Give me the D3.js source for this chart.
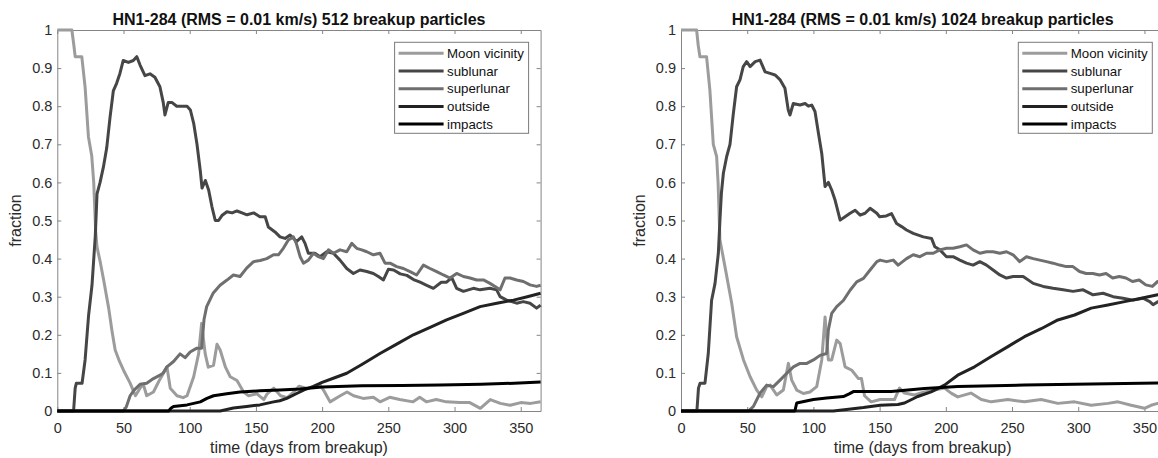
<!DOCTYPE html>
<html>
<head>
<meta charset="utf-8">
<script src="https://cdn.jsdelivr.net/npm/d3@7"></script>
<style>
  body { margin: 0; background: #fff; }
  svg { display: block; font-family: 'Liberation Sans', Arial, sans-serif; }
</style>
</head>
<body>
<div id="chart"></div>
<script>

// ---- data: [day, fraction] ----

var seriesNames = ['Moon vicinity', 'sublunar', 'superlunar', 'outside', 'impacts'];
var xTicks = [0, 50, 100, 150, 200, 250, 300, 350];
var yTicks = [0, 0.1, 0.2, 0.3, 0.4, 0.5, 0.6, 0.7, 0.8, 0.9, 1];

var moon512 = [[0,1],[11,1],[12.5,0.96],[13.5,0.93],[18.5,0.93],[21,0.85],[23.5,0.72],[26,0.67],[27.5,0.6],[29,0.47],[30,0.43],
  [32.5,0.39],[35,0.344],[38.8,0.27],[41.3,0.21],[43.7,0.16],[47,0.13],[50,0.107],[55,0.073],[59,0.04],[62.5,0.06],[65,0.07],
  [67.5,0.04],[72.6,0.05],[77,0.08],[80.3,0.1],[82.8,0.116],[85.3,0.06],[90.4,0.04],[95,0.035],[98,0.04],[103,0.09],[106.7,0.15],
  [109,0.23],[111.7,0.15],[114,0.115],[118,0.12],[120.6,0.175],[123,0.16],[127,0.115],[130.6,0.09],[135.7,0.08],[140.7,0.05],
  [144.5,0.04],[150.8,0.045],[156,0.03],[158.5,0.045],[163.5,0.06],[168.6,0.04],[173.6,0.035],[178.7,0.05],[182.5,0.065],
  [188,0.06],[193.6,0.064],[198,0.07],[201,0.055],[206,0.024],[213.7,0.04],[218.8,0.05],[223.8,0.04],[231,0.033],[238.7,0.036],
  [243.7,0.024],[251,0.036],[258.6,0.03],[268.7,0.024],[273.7,0.036],[278.7,0.024],[286.2,0.03],[293.8,0.024],[304,0.022],
  [311.5,0.022],[319.5,0.007],[327,0.03],[334.6,0.02],[342,0.015],[350,0.022],[357.5,0.02],[365,0.024]];

var sub512 = [[0,0],[12.3,0],[13.5,0.06],[14.4,0.073],[18.7,0.073],[21,0.134],[23.6,0.25],[26.2,0.33],[28.7,0.46],[30,0.57],
  [32.3,0.6],[34.8,0.64],[37.3,0.69],[39.8,0.77],[42.3,0.84],[44.8,0.86],[47.3,0.886],[49.8,0.92],[53.7,0.915],[57.4,0.92],
  [60,0.93],[62.5,0.908],[66.2,0.88],[70,0.885],[73.7,0.876],[77.5,0.851],[80,0.81],[81.3,0.777],[83.8,0.81],[86.5,0.81],
  [90.2,0.8],[94,0.8],[98,0.8],[100.5,0.79],[103,0.755],[105.5,0.7],[108,0.63],[109.3,0.585],[111.8,0.605],[114.3,0.58],
  [116.8,0.536],[119.3,0.5],[121.8,0.5],[124.3,0.513],[128.1,0.523],[132,0.52],[135.7,0.525],[139.5,0.52],[143.3,0.515],
  [148.3,0.52],[153,0.51],[157,0.51],[159.4,0.483],[164.4,0.47],[168.2,0.457],[172,0.453],[175.8,0.462],[180.8,0.445],
  [184.6,0.457],[187.1,0.44],[189.6,0.414],[194.6,0.414],[198.4,0.405],[203.5,0.418],[208.5,0.414],[213.5,0.396],[218.6,0.374],
  [223.6,0.361],[228.6,0.37],[233.7,0.366],[238.7,0.361],[242.5,0.353],[246.3,0.344],[250,0.372],[254,0.37],[259,0.36],
  [264,0.356],[269,0.345],[274,0.338],[279,0.33],[284,0.322],[290,0.338],[294,0.338],[297.9,0.35],[301.6,0.322],[306.7,0.314],
  [314.2,0.322],[319.3,0.318],[326.8,0.322],[331.8,0.318],[334.4,0.3],[339.4,0.291],[346.9,0.283],[352,0.287],[357,0.283],
  [362,0.27],[365,0.278]];

var super512 = [[0,0],[50,0],[52,0.01],[55,0.04],[58,0.055],[62.5,0.07],[67.5,0.073],[72.6,0.085],[77.6,0.094],[80,0.1],
  [82.8,0.116],[87.8,0.13],[92.7,0.15],[96.5,0.14],[100.3,0.155],[105.4,0.165],[109,0.165],[110.8,0.24],[112.8,0.274],
  [117.8,0.31],[122.9,0.33],[127.9,0.343],[133,0.357],[138,0.353],[143,0.375],[148.2,0.392],[153.2,0.395],[158.2,0.4],
  [163.3,0.41],[167,0.41],[170.7,0.427],[174.5,0.449],[178.3,0.457],[180.5,0.44],[183.4,0.405],[185.9,0.388],[189.6,0.396],
  [193.4,0.414],[197.2,0.405],[201,0.4],[204.8,0.423],[208.5,0.414],[213.5,0.423],[218.6,0.418],[222.4,0.44],[226.1,0.427],
  [229.9,0.423],[233.7,0.418],[238.7,0.41],[243.7,0.414],[247.5,0.388],[251.3,0.388],[256.3,0.379],[261.4,0.374],[266.4,0.366],
  [271.4,0.357],[276.5,0.383],[281.5,0.374],[286.5,0.366],[291.6,0.357],[296.6,0.349],[301.6,0.361],[306.7,0.353],[311.7,0.349],
  [316.7,0.344],[321.8,0.344],[326.8,0.335],[330.6,0.327],[334.4,0.318],[338.1,0.349],[341.9,0.349],[346.9,0.344],[352,0.34],
  [357,0.331],[362,0.327],[365,0.33]];

var outside512 = [[0,0],[123,0],[133,0.008],[143,0.012],[153,0.016],[163.3,0.024],[168,0.027],[173.3,0.033],[180.8,0.046],
  [186,0.055],[193,0.064],[200,0.075],[210,0.088],[218.6,0.099],[230,0.122],[243.7,0.151],[256,0.175],[268.9,0.2],[282,0.22],
  [294,0.239],[306.6,0.256],[319.3,0.274],[331.9,0.283],[344.5,0.291],[355,0.3],[365,0.309]];

var impacts512 = [[0,0],[84,0],[86,0.008],[87.8,0.012],[98,0.016],[108,0.024],[113,0.033],[118,0.04],[128,0.045],[138,0.05],
  [153,0.053],[168,0.055],[183.5,0.058],[200,0.063],[230,0.066],[260,0.067],[289,0.068],[320,0.07],[345,0.073],[365,0.076]];

var moon1024 = [[0,1],[11.8,1],[13,0.96],[14.3,0.93],[19.3,0.93],[21.8,0.843],[24.4,0.7],[26.9,0.668],[28,0.6],[29.4,0.449],
  [33.2,0.379],[38.3,0.283],[42,0.195],[47.2,0.134],[52.2,0.09],[57.2,0.055],[61,0.037],[64.7,0.064],[67.3,0.068],[72.3,0.042],
  [77.3,0.055],[81.1,0.125],[83.6,0.081],[87.4,0.055],[92.4,0.046],[97.4,0.05],[102.5,0.064],[106.3,0.134],[108.8,0.247],
  [111.3,0.134],[113.8,0.134],[117.6,0.186],[120.2,0.177],[123.9,0.116],[129,0.107],[134,0.085],[136.3,0.085],[138.6,0.04],
  [143.6,0.024],[150.4,0.03],[153.7,0.03],[161.2,0.03],[165,0.06],[168.8,0.047],[176.3,0.042],[183.9,0.05],[191.4,0.055],
  [199,0.06],[204,0.047],[209,0.037],[219,0.047],[226.8,0.03],[234.3,0.024],[246.9,0.03],[259.4,0.024],[272,0.03],[284.6,0.02],
  [297.2,0.024],[309.8,0.015],[322.4,0.02],[330,0.024],[340,0.015],[350,0.007],[355,0.015],[360,0.02],[365,0.02]];

var sub1024 = [[0,0],[12,0],[13.2,0.06],[14.4,0.073],[18.1,0.073],[20.6,0.151],[23.1,0.29],[25.7,0.335],[28.2,0.414],[29.4,0.5],
  [30.5,0.571],[32,0.624],[34.5,0.668],[37,0.7],[39.5,0.78],[42,0.851],[44.6,0.87],[47,0.904],[49.6,0.917],[52.2,0.904],
  [56,0.917],[59.7,0.921],[63.5,0.89],[67.3,0.886],[71,0.882],[74.7,0.87],[78.5,0.847],[81,0.79],[82.3,0.777],[84.8,0.807],
  [89.9,0.803],[93.7,0.807],[96.2,0.8],[98.7,0.803],[101.2,0.786],[103.8,0.729],[106.3,0.676],[108.8,0.589],[111.3,0.6],
  [113.8,0.58],[116.4,0.553],[120.2,0.501],[123.9,0.51],[127.7,0.519],[131.5,0.527],[135.3,0.514],[139,0.519],[142.8,0.532],
  [147.9,0.519],[150,0.51],[155,0.512],[159,0.518],[162.8,0.492],[166.6,0.484],[170.3,0.475],[175.4,0.466],[183,0.457],
  [189.2,0.453],[191.7,0.431],[195.5,0.423],[200.5,0.405],[205.5,0.405],[210.6,0.396],[215.6,0.388],[220.6,0.383],[225.7,0.392],
  [230.7,0.383],[235.7,0.37],[240.8,0.357],[245.8,0.349],[250.8,0.353],[258.4,0.353],[266,0.335],[273.5,0.327],[281,0.322],
  [288.6,0.318],[296.1,0.314],[303.7,0.318],[311.2,0.305],[318.8,0.309],[326.3,0.3],[333.8,0.296],[341.4,0.291],[348.9,0.296],
  [354,0.287],[356.5,0.279],[360.3,0.287],[365,0.285]];

var super1024 = [[0,0],[51,0],[54.7,0.012],[59.7,0.047],[64.7,0.068],[69.8,0.064],[74.8,0.081],[79.9,0.099],[84.9,0.116],
  [89.9,0.125],[95,0.125],[100,0.134],[105,0.146],[110,0.151],[111.3,0.213],[113.8,0.256],[117.6,0.274],[122.6,0.29],
  [127.7,0.317],[132.7,0.339],[137.8,0.348],[142.8,0.37],[147.9,0.392],[150.4,0.396],[155.2,0.392],[160.3,0.396],[164,0.383],
  [170.3,0.4],[175.4,0.41],[180.4,0.405],[185.4,0.414],[190.5,0.414],[195.5,0.423],[200.5,0.427],[205.5,0.427],[210.6,0.431],
  [215.6,0.436],[220.6,0.423],[225.7,0.414],[230.7,0.418],[235.7,0.418],[240.8,0.414],[245.8,0.418],[250.8,0.41],[255.8,0.392],
  [260.9,0.405],[266,0.4],[271,0.396],[276,0.392],[281,0.388],[286,0.383],[291,0.379],[296,0.379],[301,0.366],[306,0.361],
  [311,0.361],[316,0.357],[321,0.361],[326,0.349],[331,0.353],[336,0.349],[341,0.34],[346,0.344],[351,0.331],[356,0.327],
  [360,0.34],[365,0.335]];

var outside1024 = [[0,0],[115,0],[125,0.004],[137.8,0.009],[150.4,0.015],[163.8,0.017],[168.8,0.021],[178.8,0.038],
  [188.9,0.05],[199,0.068],[209,0.094],[221.7,0.116],[234.3,0.143],[246.9,0.169],[259.4,0.195],[272,0.216],[284.6,0.239],
  [297.2,0.252],[309.8,0.27],[322.4,0.278],[335,0.287],[347.6,0.296],[360,0.305],[365,0.308]];

var impacts1024 = [[0,0],[86,0],[87.4,0.021],[100,0.03],[110,0.034],[122.6,0.038],[127,0.045],[130.2,0.051],[150,0.051],
  [158.7,0.051],[183.9,0.059],[209,0.064],[259.4,0.068],[309.8,0.071],[365,0.074]];


// ---- layout / style ----

var width = 1158, height = 458;
var colors = ['#9c9c9c', '#464646', '#6f6f6f', '#222222', '#000000'];
var panelW = 483.3, panelH = 381, panelTop = 30;

var svg = d3.select('#chart').append('svg')
    .attr('width', width)
    .attr('height', height);

drawPanel(57.3, 'HN1-284 (RMS = 0.01 km/s) 512 breakup particles',
  [moon512, sub512, super512, outside512, impacts512]);
drawPanel(681, 'HN1-284 (RMS = 0.01 km/s) 1024 breakup particles',
  [moon1024, sub1024, super1024, outside1024, impacts1024]);


/**
 * One MATLAB-style axes box with its five curves and legend.
 */
function drawPanel(left, title, series) {

  var g = svg.append('g')
      .attr('transform', 'translate(' + left + ',' + panelTop + ')');

  var x = d3.scaleLinear().domain([0, 365]).range([0, panelW]);
  var y = d3.scaleLinear().domain([0, 1]).range([panelH, 0]);

  var fmtY = function(d) { return d3.format('~g')(d); };

  // axes (ticks pointing inwards, box on)
  var bottom = g.append('g')
      .attr('transform', 'translate(0,' + panelH + ')')
      .call(d3.axisBottom(x).tickValues(xTicks).tickSizeInner(-4).tickSizeOuter(0).tickPadding(11.5));
  var leftAx = g.append('g')
      .call(d3.axisLeft(y).tickValues(yTicks).tickFormat(fmtY).tickSizeInner(-4).tickSizeOuter(0).tickPadding(5));
  var top = g.append('g')
      .call(d3.axisTop(x).tickValues(xTicks).tickFormat('').tickSizeInner(-4).tickSizeOuter(0));
  var right = g.append('g')
      .attr('transform', 'translate(' + panelW + ',0)')
      .call(d3.axisRight(y).tickValues(yTicks).tickFormat('').tickSizeInner(-4).tickSizeOuter(0));

  [bottom, leftAx, top, right].forEach(function(a) {
    a.selectAll('path, line').attr('stroke', '#858585');
    a.selectAll('text')
        .attr('fill', '#2b2b2b')
        .style('font-size', '14.5px')
        .style('font-family', "'Liberation Sans', Arial, sans-serif");
  });

  // curves
  var line = d3.line()
      .x(function(d) { return x(d[0]); })
      .y(function(d) { return y(d[1]); });

  g.selectAll('path.series')
      .data(series)
    .enter().append('path')
      .attr('class', 'series')
      .attr('d', line)
      .attr('fill', 'none')
      .attr('stroke', function(d, i) { return colors[i]; })
      .attr('stroke-width', 3)
      .attr('stroke-linejoin', 'round');

  // title and labels
  g.append('text')
      .attr('x', panelW / 2)
      .attr('y', -5)
      .attr('text-anchor', 'middle')
      .style('font-size', '16px')
      .style('font-weight', 'bold')
      .attr('fill', '#111')
      .text(title);

  g.append('text')
      .attr('x', panelW / 2)
      .attr('y', panelH + 42)
      .attr('text-anchor', 'middle')
      .style('font-size', '16px')
      .attr('fill', '#2b2b2b')
      .text('time (days from breakup)');

  g.append('text')
      .attr('transform', 'translate(-36.3,' + (panelH / 2) + ') rotate(-90)')
      .attr('text-anchor', 'middle')
      .style('font-size', '16px')
      .attr('fill', '#2b2b2b')
      .text('fraction');

  // legend
  var leg = g.append('g')
      .attr('transform', 'translate(' + (panelW - 146) + ',12.3)');

  leg.append('rect')
      .attr('width', 134)
      .attr('height', 91)
      .attr('fill', '#fff')
      .attr('stroke', '#7a7a7a');

  var item = leg.selectAll('g.item')
      .data(seriesNames)
    .enter().append('g')
      .attr('class', 'item')
      .attr('transform', function(d, i) { return 'translate(0,' + (11 + i * 17.7) + ')'; });

  item.append('line')
      .attr('x1', 4).attr('x2', 49)
      .attr('stroke', function(d, i) { return colors[i]; })
      .attr('stroke-width', 3);

  item.append('text')
      .attr('x', 52.4)
      .attr('dy', '0.35em')
      .style('font-size', '13.3px')
      .attr('fill', '#111')
      .text(function(d) { return d; });
}

</script>
</body>
</html>
